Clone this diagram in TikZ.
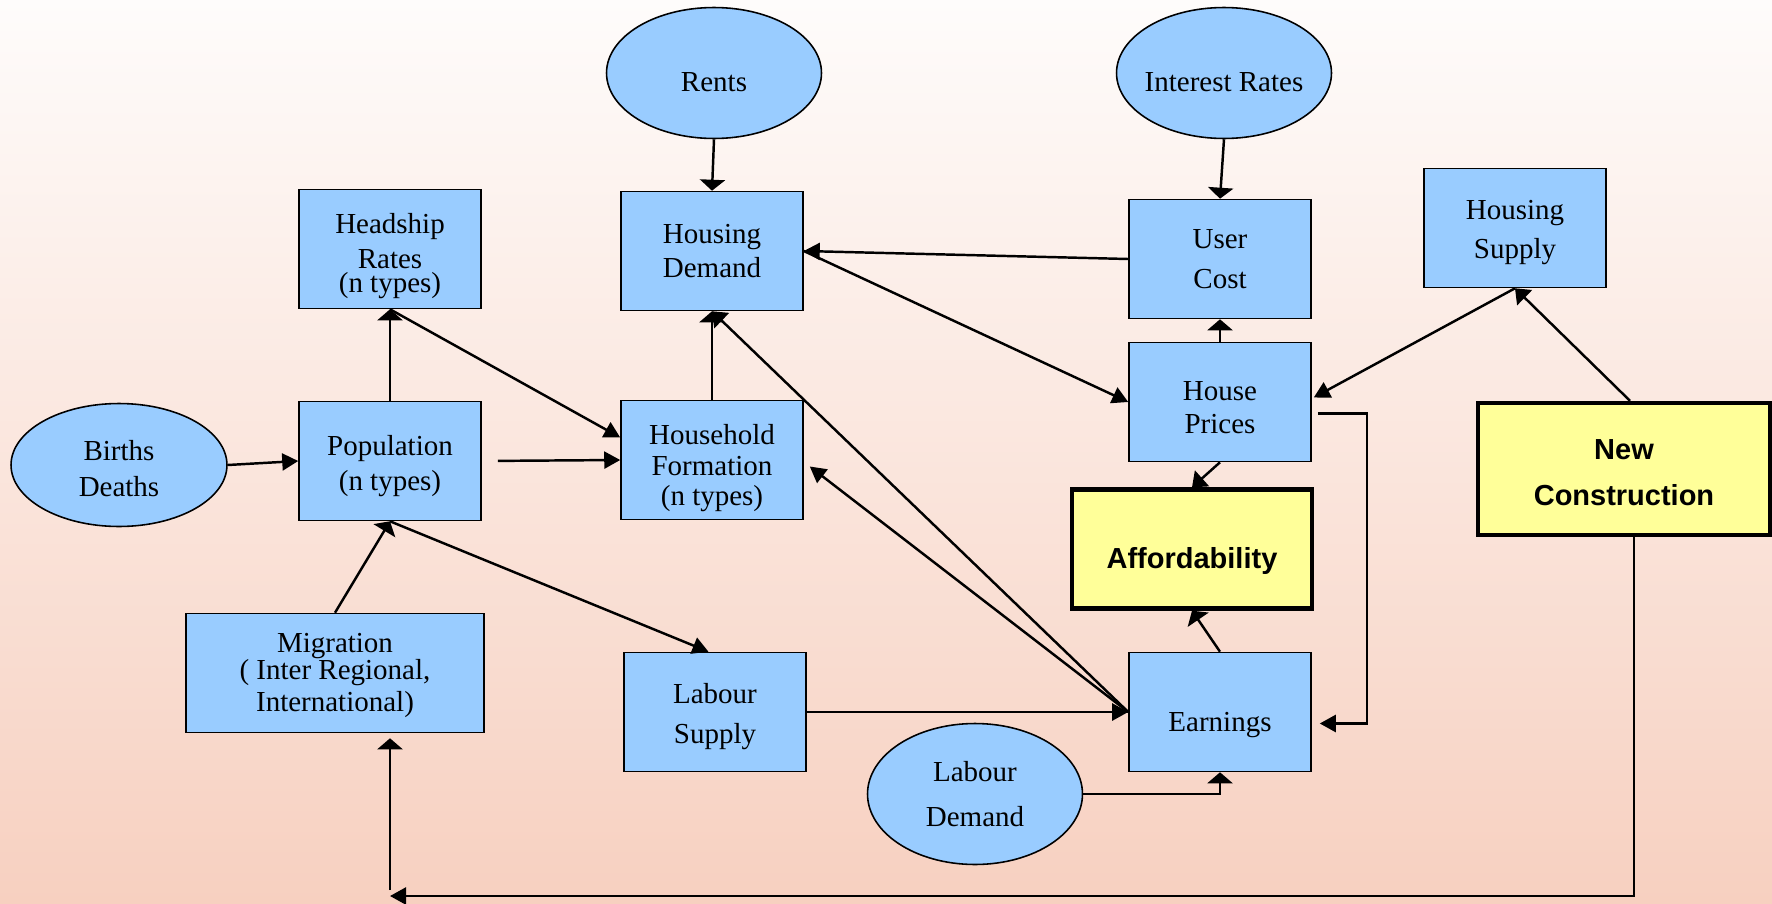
\documentclass[tikz,border=0pt]{standalone}
\usepackage{fontspec}
\setmainfont{Liberation Serif}
\newfontfamily\boxsans{Liberation Sans}
\usepackage{tikz}
\usetikzlibrary{shapes.geometric,arrows.meta}

\definecolor{boxblue}{RGB}{153,204,255}
\definecolor{boxyellow}{RGB}{255,255,153}
\definecolor{bgtop}{RGB}{254,252,251}
\definecolor{bgbottom}{RGB}{247,208,192}

% pushes the first line of a box text down a little
\newcommand{\padtop}[1]{\rule{0pt}{#1}}

\begin{document}
\begin{tikzpicture}[x=0.02cm, y=-0.02cm,
    txt/.style={font=\fontsize{16.5}{19.8}\selectfont, align=center},
    blkbox/.style={txt, draw, line width=0.9pt, fill=boxblue, inner sep=0pt,
        minimum width=3.64cm, minimum height=2.38cm},
    yelbox/.style={blkbox, fill=boxyellow, line width=2.5pt,
        font=\fontsize{16.5}{19.8}\boxsans\bfseries},
    oval/.style={txt, ellipse, draw, line width=0.9pt, fill=boxblue,
        inner xsep=-0.2cm, inner ysep=0pt, minimum width=4.3cm, minimum height=2.62cm},
    oneline/.style={text height=0.76cm, text depth=0pt},
    link/.style={line width=1.4pt},
    harrow/.style={link, -{Triangle[length=0.32cm,width=0.34cm]}},
    darrow/.style={link, -{Triangle[length=0.27cm,width=0.42cm]}},
    varrow/.style={link, -{Triangle[length=0.22cm,width=0.5cm]}}]
    \useasboundingbox (0,0) rectangle (1772,903);
    \shade[top color=bgtop, bottom color=bgbottom] (0,0) rectangle (1772,903);

    % exogenous drivers
    \node[oval, oneline] (rents) at (714,73) {Rents};
    \node[oval, oneline] (interest) at (1224,73) {Interest Rates};
    \node[oval, minimum width=4.32cm, minimum height=2.46cm] (births) at (119,465) {\padtop{0.55cm}Births\\[1pt]Deaths};
    \node[oval, minimum height=2.82cm] (ldemand) at (975,794) {Labour\\[6pt]Demand};

    % housing market
    \node[blkbox] (headship) at (390,249) {\padtop{0.68cm}Headship\\Rates\\[-6pt](n types)};
    \node[blkbox] (hdemand) at (712,251) {Housing\\Demand};
    \node[blkbox] (ucost) at (1220,259) {User\\[3pt]Cost};
    \node[blkbox] (hsupply) at (1515,228) {\padtop{0.57cm}Housing\\[2pt]Supply};
    \node[blkbox] (pop) at (390,461) {\padtop{0.59cm}Population\\(n types)};
    \node[blkbox] (hform) at (712,460) {\padtop{0.73cm}Household\\[-2.5pt]Formation\\[-2.5pt](n types)};
    \node[blkbox] (hprices) at (1220,402) {\padtop{0.59cm}House\\[-1pt]Prices};
    \node[yelbox, oneline, minimum width=4.8cm] (afford) at (1192,549) {Affordability};
    \node[yelbox, minimum width=5.84cm, minimum height=2.64cm] (newcon) at (1624,469) {\padtop{0.55cm}New\\[6pt]Construction};

    % labour market
    \node[blkbox, minimum width=5.96cm] (migr) at (335,673) {\padtop{0.47cm}Migration\\[-4pt]( Inter Regional,\\[-2pt]International)};
    \node[blkbox] (lsupply) at (715,712) {\padtop{0.59cm}Labour\\[3pt]Supply};
    \node[blkbox, oneline] (earn) at (1220,712) {Earnings};
    \coordinate (mcorner) at (390,896);

    % links
    \draw[varrow] (rents.south) -- (hdemand.north);
    \draw[varrow] (interest.south) -- (ucost.north);
    \draw[harrow] (ucost.west) -- (hdemand.east);
    \draw[harrow] (hdemand.east) -- (hprices.west);
    \draw[varrow] (hprices.north) -- (ucost.south);
    \draw[harrow] (hsupply.south) -- ([shift={(0.04cm,0.09cm)}]hprices.east);
    \draw[darrow] ([xshift=0.12cm]newcon.north) -- (hsupply.south);
    \draw[darrow] (hprices.south) -- (afford.north);
    \draw[varrow] (earn.north) -- (afford.south);
    \draw[harrow] ([shift={(0.12cm,-0.23cm)}]hprices.east) -- ++(0.98cm,0)
        |- ([shift={(0.16cm,-0.23cm)}]earn.east);
    \draw[varrow] (ldemand.east) -| (earn.south);
    \draw[harrow] (lsupply.east) -- (earn.west);
    \draw[darrow] (earn.west) -- (hdemand.south);
    \draw[harrow] (earn.west) -- ([shift={(0.12cm,-0.13cm)}]hform.east);
    \draw[varrow] (hform.north) -- (hdemand.south);
    \draw[harrow, shorten <=0.32cm] (pop.east) -- (hform.west);
    \draw[harrow] (headship.south) -- ([yshift=0.45cm]hform.west);
    \draw[varrow] (pop.north) -- (headship.south);
    \draw[harrow] (births.east) -- (pop.west);
    \draw[varrow] (migr.north) -- (pop.south);
    \draw[harrow] (pop.south) -- ([xshift=-0.13cm]lsupply.north);
    \draw[harrow] ([xshift=0.2cm]newcon.south) |- (mcorner);
    \draw[varrow, shorten <=0.12cm, shorten >=0.1cm] (mcorner) -- (mcorner |- migr.south);
\end{tikzpicture}
\end{document}
